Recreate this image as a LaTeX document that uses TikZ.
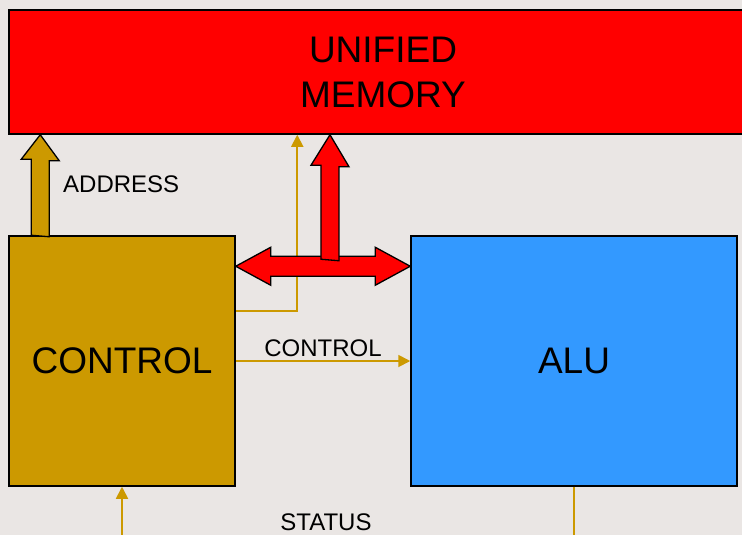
\documentclass[tikz,border=0pt]{standalone}
\usepackage{fontspec}
\setmainfont{Liberation Sans}
\usepackage{tikz}
\usetikzlibrary{arrows.meta,calc}
\definecolor{gold}{RGB}{204,153,0}
\definecolor{alublue}{RGB}{51,153,255}
\definecolor{paper}{RGB}{234,230,228}

\begin{document}
\begin{tikzpicture}[
    x=1pt, y=-1pt,
    >={Triangle[width=12pt,length=12pt]},
    unitbox/.style={draw, line width=1.5pt, inner sep=0pt, align=center, font=\fontsize{37}{45}\selectfont},
    goldbus/.style={draw, fill=gold, line width=1.3pt, line join=miter},
    redbus/.style={draw, fill=red, line width=1.3pt, line join=miter},
    sig/.style={draw=gold, line width=1.8pt, ->},
    lbl/.style={font=\fontsize{24}{28}\selectfont, inner sep=3pt}
]
    \useasboundingbox (0,0) rectangle (742,535);
    \clip (0,0) rectangle (742,535);
    \fill[paper] (0,0) rectangle (742,535);

    \node[unitbox, fill=red, minimum width=748pt, minimum height=124pt] (mem) at (383,72)
        {UNIFIED\\MEMORY};
    \node[unitbox, fill=gold, minimum width=226pt, minimum height=250pt] (ctrl) at (122,361)
        {CONTROL};
    \node[unitbox, fill=alublue, minimum width=326pt, minimum height=250pt] (alu) at (574,361)
        {ALU};

    % address bus
    \coordinate (addr) at ($(ctrl.north west)+(32,0)$);
    \draw[goldbus] (addr) ++(-9,0) -- ++(0,-76) -- ++(-10,0) -- (addr |- mem.south)
        -- ++(19,26) -- ++(-10,0) -- ++(0,76) -- cycle;
    \node[lbl, anchor=west] (addrlbl) at (60,184) {ADDRESS};

    % control line to memory
    \coordinate (ctltap) at ($(ctrl.north east)!0.3!(ctrl.south east)$);
    \coordinate (memin) at ($(mem.south west)+(289,0)$);
    \draw[sig] (ctltap) -| (memin);

    % data bus
    \coordinate (busL) at ($(ctrl.north east)+(0,31)$);
    \coordinate (busR) at (busL -| alu.west);
    \coordinate (upbus) at ($(busL)!0.54!(busR)$);
    \draw[redbus] (busL) -- ++(35,-19) -- ++(0,9) -- ($(busR)+(-35,-10)$) -- ++(0,-9) -- (busR)
        -- ++(-35,19) -- ++(0,-9) -- ($(busL)+(35,10)$) -- ++(0,9) -- cycle;
    \draw[redbus] ($(upbus)+(-9,-7)$) -- ++(0,-94) -- ++(-10,0) -- (upbus |- mem.south)
        -- ++(19,32) -- ++(-10,0) -- ++(0,94) -- cycle;

    % control to alu
    \draw[sig] (ctrl.east) -- node[lbl, above] (ctllbl) {CONTROL} (alu.west);

    % status
    \coordinate (stout) at (alu.south |- 0,545);
    \coordinate (stin) at (ctrl.south |- 0,545);
    \draw[sig, -] (alu.south) -- (stout);
    \draw[sig] (stin) -- (ctrl.south);
    \node[lbl] (status) at (326,522) {STATUS};
\end{tikzpicture}
\end{document}
